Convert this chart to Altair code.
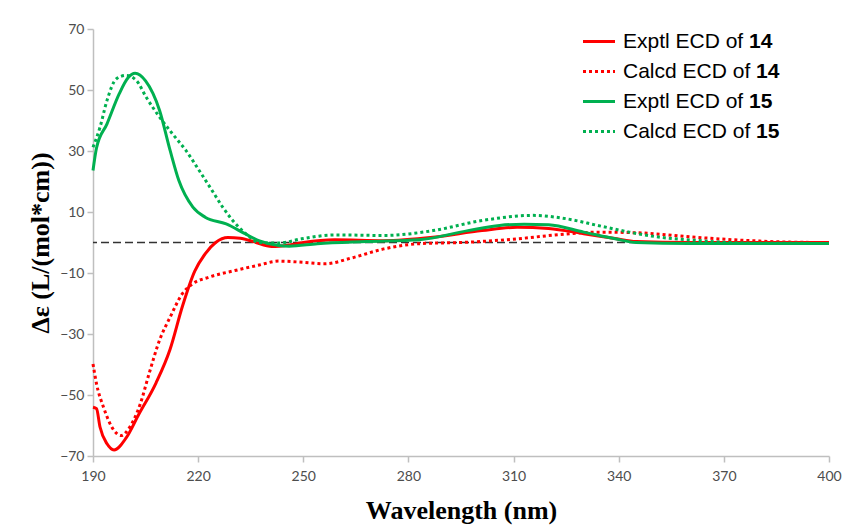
import altair as alt
import pandas as pd

# ---- data ----
wl_exp14 = [190, 191, 192, 194, 196, 199.5, 203, 208, 212, 215.5, 219, 222, 225, 228.5, 232, 236, 241, 246, 250, 259, 273, 287, 301, 311, 320, 330, 339, 345, 360, 380, 400]
de_exp14 = [-54, -54.5, -60.5, -66, -68, -64, -56.5, -46, -35, -21, -9.5, -3.7, 0, 1.6, 1.4, 0.2, -1.3, -0.8, 0, 0.9, 0.6, 1.7, 3.9, 5, 4.6, 2.9, 1.3, 0.3, 0, 0, 0]

wl_calc14 = [190, 191, 193, 196, 198, 200.5, 203.5, 206, 209, 212, 215.5, 218.5, 223, 230.5, 237, 243, 250, 256, 264, 273, 283, 297, 311, 325, 334, 345, 362, 376, 390, 400]
de_calc14 = [-39.8, -46.3, -54, -61.6, -63.3, -60.5, -52.9, -43, -32, -24.5, -16.8, -13.5, -11.4, -9.2, -7.5, -6.1, -6.5, -7, -5, -2.1, -0.4, 0.1, 1.2, 2.8, 3.4, 3.2, 1.7, 0.7, 0.1, 0]

wl_exp15 = [190, 191, 194, 197.5, 200, 202, 205, 209, 212, 214.5, 218.5, 222, 228, 233.5, 237.5, 243, 246, 254, 268, 283, 297, 306, 313, 320, 330, 339, 345, 360, 380, 400]
de_exp15 = [23.6, 31, 38.9, 48.8, 54, 55.5, 53, 43.3, 30.2, 20.3, 11.6, 8.3, 6.1, 2.8, 0.5, -1, -1.2, -0.4, 0.3, 0.9, 3.9, 5.6, 6, 5.8, 3.4, 1.2, 0, -0.3, -0.3, -0.3]

wl_calc15 = [190, 192, 194, 196.7, 199.5, 202.4, 205.2, 209, 212.7, 216.5, 220.3, 224, 227, 231.6, 234, 237.3, 243, 249.5, 259, 273, 287, 301, 315.5, 325, 334, 343, 352, 362, 376, 400]
de_calc15 = [31.2, 37.8, 46.6, 53.7, 54.8, 53.1, 47.6, 41.1, 35.6, 30.2, 23.6, 17, 11.6, 5, 2.5, 0, -0.2, 1.2, 2.5, 2.3, 3.9, 7.2, 8.9, 7.8, 5.6, 3.4, 1.7, 0.7, -0.2, -0.3]

series_prefix = ["Exptl ECD of ", "Calcd ECD of ", "Exptl ECD of ", "Calcd ECD of "]
series_number = ["14", "14", "15", "15"]
series_color = ["#ff0000", "#ff0000", "#00b050", "#00b050"]
series_dotted = [False, True, False, True]

x_ticks = [190, 220, 250, 280, 310, 340, 370, 400]
y_ticks = [-70, -50, -30, -10, 10, 30, 50, 70]

W, H = 736, 427

x_enc = alt.X(
    "wl:Q",
    scale=alt.Scale(domain=[190, 400], nice=False, zero=False),
    axis=alt.Axis(values=x_ticks, title="Wavelength (nm)", titleY=54, titleBaseline="middle",
                  labelPadding=7, labelFlush=False),
)
y_enc = alt.Y(
    "de:Q",
    scale=alt.Scale(domain=[-70, 70], nice=False),
    axis=alt.Axis(values=y_ticks, title="Δε (L/(mol*cm))", titleX=-53, titleBaseline="middle",
                  labelPadding=3, labelFlush=False),
)

zero = alt.Chart(pd.DataFrame({"de": [0]})).mark_rule(
    color="#333333", strokeDash=[8, 4], strokeWidth=1.6
).encode(y=alt.Y("de:Q"))

layers = [zero]
all_series = [(wl_exp14, de_exp14), (wl_calc14, de_calc14), (wl_exp15, de_exp15), (wl_calc15, de_calc15)]
for i, (wl, de) in enumerate(all_series):
    d = pd.DataFrame({"wl": wl, "de": de})
    kw = dict(color=series_color[i], strokeWidth=3, interpolate="monotone")
    if series_dotted[i]:
        kw["strokeDash"] = [3, 3]
    layers.append(alt.Chart(d).mark_line(**kw).encode(x=x_enc, y=y_enc))

leg = pd.DataFrame({
    "row": [0, 1, 2, 3],
    "prefix": series_prefix,
    "num": series_number,
    "color": series_color,
    "dotted": series_dotted,
})
leg_base = alt.Chart(leg).transform_calculate(
    ypx="12.5 + datum.row * 30",
    bx="datum.dotted ? 663 : 656",
)
for dotted in [False, True]:
    layers.append(
        leg_base.transform_filter(f"datum.dotted == {str(dotted).lower()}").mark_rule(
            strokeWidth=3, strokeDash=[3, 3] if dotted else [1, 0]
        ).encode(
            x=alt.value(490), x2=alt.value(522),
            y=alt.Y("ypx:Q", scale=None, axis=None),
            color=alt.Color("color:N", scale=None, legend=None),
        )
    )
layers.append(
    leg_base.mark_text(align="left", baseline="middle", font="Liberation Sans", fontSize=21, color="black").encode(
        x=alt.value(530), y=alt.Y("ypx:Q", scale=None, axis=None), text="prefix:N"
    )
)
layers.append(
    leg_base.mark_text(align="left", baseline="middle", font="Liberation Sans", fontSize=21,
                       fontWeight="bold", color="black").encode(
        x=alt.X("bx:Q", scale=None, axis=None), y=alt.Y("ypx:Q", scale=None, axis=None), text="num:N"
    )
)

chart = alt.layer(*layers).properties(
    width=W, height=H,
    autosize=alt.AutoSizeParams(type="none"),
    padding={"left": 85, "top": 21, "right": 13, "bottom": 70},
).configure_view(stroke=None).configure_axis(
    grid=False,
    domainColor="#bfbfbf", tickColor="#bfbfbf", domainWidth=1.5, tickWidth=1.5, tickSize=6,
    labelFont="Lato", labelFontSize=14, labelColor="#4d4d4d",
    titleFont="Liberation Serif", titleFontSize=26, titleFontWeight="bold", titleColor="black",
)

chart.save("out.html", embed_options={"renderer": "svg", "actions": False})
